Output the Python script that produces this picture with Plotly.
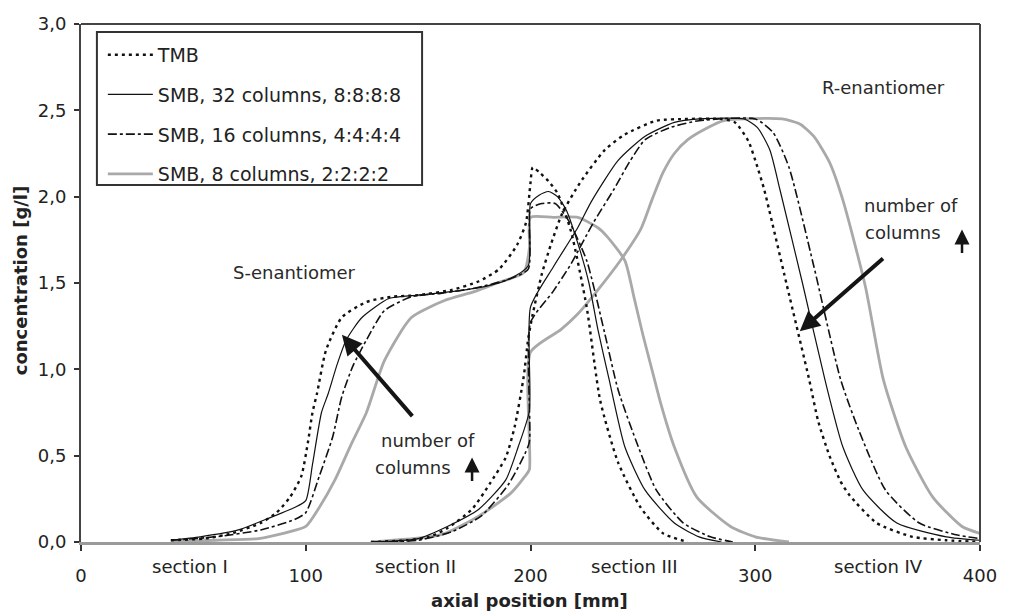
import plotly.graph_objects as go

# Axial concentration profiles of S- and R-enantiomer (positions in mm, concentrations in g/l)
tmb_s_x = [40, 55, 67, 80, 87, 93, 98, 101, 103, 105, 109, 116, 127, 138, 150, 165, 177, 186, 194, 198,
           200, 201, 204, 208, 212, 218, 225, 231, 239, 249, 259, 270]
tmb_s_c = [0.01, 0.02, 0.05, 0.11, 0.17, 0.26, 0.38, 0.58, 0.75, 0.86, 1.11, 1.30, 1.39, 1.42, 1.43, 1.46,
           1.51, 1.58, 1.72, 1.85, 2.08, 2.17, 2.14, 2.09, 2.02, 1.80, 1.36, 0.82, 0.46, 0.20, 0.05, 0.0]
tmb_r_x = [129, 145, 155, 163, 174, 182, 189, 193, 197, 199, 201, 205, 209, 214, 222, 233, 242, 256, 270,
           285, 291, 297, 301, 304, 314, 324, 328, 333, 338, 342, 354, 370, 385, 400]
tmb_r_c = [0.0, 0.01, 0.03, 0.08, 0.19, 0.34, 0.49, 0.67, 0.96, 1.18, 1.32, 1.55, 1.72, 1.90, 2.08, 2.27,
           2.36, 2.44, 2.45, 2.45, 2.43, 2.32, 2.17, 2.04, 1.49, 0.94, 0.70, 0.50, 0.35, 0.27, 0.11, 0.03,
           0.01, 0.0]

smb32_s_x = [40, 53, 70, 82, 95, 100, 103, 107, 110, 114, 118, 125, 137, 150, 165, 180, 190, 199, 200,
             204, 208, 212, 216, 222, 226, 230, 235, 242, 251, 264, 275, 285]
smb32_s_c = [0.01, 0.03, 0.07, 0.13, 0.20, 0.24, 0.45, 0.75, 0.86, 1.03, 1.17, 1.30, 1.41, 1.43, 1.45,
             1.48, 1.52, 1.60, 1.96, 2.01, 2.03, 2.00, 1.92, 1.69, 1.50, 1.23, 0.94, 0.55, 0.30, 0.11,
             0.03, 0.0]
smb32_r_x = [129, 150, 163, 177, 189, 194.5, 199.5, 200, 210, 221, 227, 239, 251, 264, 275, 295, 301,
             306.5, 311, 321, 331, 339, 348, 363, 385, 400]
smb32_r_c = [0.0, 0.02, 0.09, 0.19, 0.36, 0.55, 0.76, 1.36, 1.59, 1.82, 1.97, 2.21, 2.35, 2.43, 2.45,
             2.45, 2.40, 2.27, 2.04, 1.50, 0.94, 0.55, 0.30, 0.11, 0.03, 0.01]

smb16_s_x = [40, 60, 80, 95, 100, 106, 112, 116, 121, 127, 135, 147, 160, 175, 190, 199, 200, 205, 211,
             217, 225, 233, 239, 248, 256, 268, 280, 290]
smb16_s_c = [0.01, 0.03, 0.07, 0.13, 0.17, 0.38, 0.61, 0.84, 1.02, 1.17, 1.34, 1.42, 1.44, 1.47, 1.52,
             1.58, 1.93, 1.96, 1.96, 1.86, 1.63, 1.21, 0.88, 0.55, 0.30, 0.11, 0.03, 0.0]
smb16_r_x = [129, 150, 165, 178, 190, 197.5, 199.5, 200, 210, 218, 228, 237, 244, 251, 262, 275, 300,
             308, 315, 326, 338, 346, 358, 373, 390, 400]
smb16_r_c = [0.0, 0.01, 0.06, 0.15, 0.33, 0.51, 0.58, 1.27, 1.45, 1.61, 1.85, 2.04, 2.20, 2.33, 2.40,
             2.44, 2.45, 2.37, 2.17, 1.60, 0.94, 0.65, 0.30, 0.11, 0.04, 0.02]

smb8_s_x = [40, 60, 79, 90, 100, 106, 113, 120, 127, 135, 147, 162, 175, 185, 197, 199.5, 200, 210, 221,
            230, 234, 242, 246, 250, 254, 258, 264, 274, 289, 300, 315]
smb8_s_c = [0.0, 0.01, 0.02, 0.05, 0.09, 0.20, 0.36, 0.56, 0.75, 1.05, 1.30, 1.40, 1.45, 1.50, 1.56,
            1.70, 1.88, 1.88, 1.88, 1.82, 1.77, 1.63, 1.42, 1.20, 1.00, 0.80, 0.55, 0.26, 0.09, 0.03, 0.0]
smb8_r_x = [129, 155, 162, 177, 191, 197.5, 199.5, 200, 213.5, 221, 230, 240, 249, 254, 259, 264, 270,
            279, 286, 295, 312, 320, 326, 333, 339, 349, 357, 367, 379, 392, 400]
smb8_r_c = [0.0, 0.03, 0.05, 0.15, 0.28, 0.38, 0.42, 1.10, 1.23, 1.32, 1.46, 1.63, 1.81, 1.98, 2.14,
            2.25, 2.33, 2.40, 2.44, 2.45, 2.45, 2.42, 2.35, 2.20, 1.98, 1.48, 0.94, 0.55, 0.26, 0.09, 0.05]

x_ticks = [0, 100, 200, 300, 400]
y_ticks = [0.0, 0.5, 1.0, 1.5, 2.0, 2.5, 3.0]
y_tick_text = ["0,0", "0,5", "1,0", "1,5", "2,0", "2,5", "3,0"]
section_names = ["section I", "section II", "section III", "section IV"]
section_centers = [48.7, 149, 246, 355]

FONT = "DejaVu Sans"
INK = "#222222"

series = [
    # name, S profile, R profile, line style, legend rank
    ("SMB, 8 columns, 2:2:2:2", smb8_s_x, smb8_s_c, smb8_r_x, smb8_r_c,
     dict(color="#a9a9a9", width=2.8), 4),
    ("SMB, 16 columns, 4:4:4:4", smb16_s_x, smb16_s_c, smb16_r_x, smb16_r_c,
     dict(color="#111111", width=1.6, dash="9px,3px,3px,3px"), 3),
    ("SMB, 32 columns, 8:8:8:8", smb32_s_x, smb32_s_c, smb32_r_x, smb32_r_c,
     dict(color="#111111", width=1.2), 2),
    ("TMB", tmb_s_x, tmb_s_c, tmb_r_x, tmb_r_c,
     dict(color="#111111", width=2.4, dash="3px,4px"), 1),
]

fig = go.Figure()
for name, sx, sc, rx, rc, line, rank in series:
    style = dict(line, shape="spline", smoothing=0.6)
    fig.add_trace(go.Scatter(x=sx, y=sc, mode="lines", name=name, line=style,
                             legendgroup=name, legendrank=rank, showlegend=True))
    fig.add_trace(go.Scatter(x=rx, y=rc, mode="lines", name=name, line=style,
                             legendgroup=name, legendrank=rank, showlegend=False))

annotations = []
for name, xc in zip(section_names, section_centers):
    annotations.append(dict(x=xc, y=-0.048, xref="x", yref="paper", text=name, showarrow=False,
                            font=dict(family=FONT, size=18, color=INK), xanchor="center",
                            yanchor="middle"))

text_font = dict(family=FONT, size=18, color="#2a2a2a")
mid = dict(showarrow=False, font=text_font, xanchor="center", yanchor="middle")
annotations += [
    dict(x=95.2, y=1.56, text="S-enantiomer", **mid),
    dict(x=357.0, y=2.63, text="R-enantiomer", **mid),
    dict(x=154.6, y=0.59, text="number of", **mid),
    dict(x=130.0, y=0.43, text="columns", showarrow=False, font=text_font, xanchor="left",
         yanchor="middle"),
    dict(x=369.4, y=1.95, text="number of", **mid),
    dict(x=347.8, y=1.79, text="columns", showarrow=False, font=text_font, xanchor="left",
         yanchor="middle"),
    # long arrows pointing towards more columns
    dict(x=116.1, y=1.20, ax=148.0, ay=0.72, axref="x", ayref="y", text="", showarrow=True,
         arrowhead=2, arrowsize=1.0, arrowwidth=4, arrowcolor="#151515"),
    dict(x=319.8, y=1.22, ax=357.5, ay=1.65, axref="x", ayref="y", text="", showarrow=True,
         arrowhead=2, arrowsize=1.0, arrowwidth=4, arrowcolor="#151515"),
    # small upward arrows
    dict(x=174.0, y=0.49, ax=174.0, ay=0.345, axref="x", ayref="y", text="", showarrow=True,
         arrowhead=2, arrowsize=1.2, arrowwidth=2.5, arrowcolor="#151515"),
    dict(x=392.0, y=1.81, ax=392.0, ay=1.665, axref="x", ayref="y", text="", showarrow=True,
         arrowhead=2, arrowsize=1.2, arrowwidth=2.5, arrowcolor="#151515"),
    # axis titles
    dict(x=0.499, y=-0.112, xref="paper", yref="paper", text="<b>axial position [mm]</b>",
         showarrow=False, xanchor="center", yanchor="middle",
         font=dict(family=FONT, size=18, color=INK)),
    dict(x=-0.0664, y=0.504, xref="paper", yref="paper", text="<b>concentration [g/l]</b>",
         showarrow=False, textangle=-90, xanchor="center", yanchor="middle",
         font=dict(family=FONT, size=18, color=INK)),
]

shapes = [
    # plot frame top and right edges
    dict(type="line", xref="paper", yref="paper", x0=0, x1=1, y0=1, y1=1,
         line=dict(color="#444444", width=2)),
    dict(type="line", xref="paper", yref="paper", x0=1, x1=1, y0=0, y1=1,
         line=dict(color="#444444", width=2)),
    # legend box
    dict(type="rect", xref="paper", yref="paper", x0=0.0177, x1=0.3794, y0=0.689, y1=0.9846,
         line=dict(color="#333333", width=2), fillcolor="white", layer="below"),
]

fig.update_layout(
    width=1009, height=611, autosize=False,
    margin=dict(l=81, r=24, t=24, b=69),
    paper_bgcolor="white", plot_bgcolor="white",
    font=dict(family=FONT, size=18, color=INK),
    showlegend=True,
    legend=dict(x=0.0243, y=0.977, xanchor="left", yanchor="top", bgcolor="rgba(0,0,0,0)",
                borderwidth=0, traceorder="grouped", tracegroupgap=12, itemwidth=45,
                font=dict(family=FONT, size=19, color=INK)),
    xaxis=dict(range=[0, 400], tickvals=x_ticks, ticktext=[str(v) for v in x_ticks],
               showline=True, linecolor="#9a9a9a", linewidth=2.5, ticks="outside", ticklen=6,
               tickwidth=1.5, tickcolor="#333333", showgrid=False, zeroline=False,
               ticklabelstandoff=10, tickfont=dict(family=FONT, size=18, color=INK)),
    yaxis=dict(range=[0, 3], tickvals=y_ticks, ticktext=y_tick_text, showline=True,
               linecolor="#444444", linewidth=2, ticks="outside", ticklen=5, tickwidth=1.5,
               tickcolor="#333333", showgrid=False, zeroline=False, ticklabelstandoff=4,
               tickfont=dict(family=FONT, size=18, color=INK)),
    annotations=annotations,
    shapes=shapes,
)

fig.write_html("out.html")
